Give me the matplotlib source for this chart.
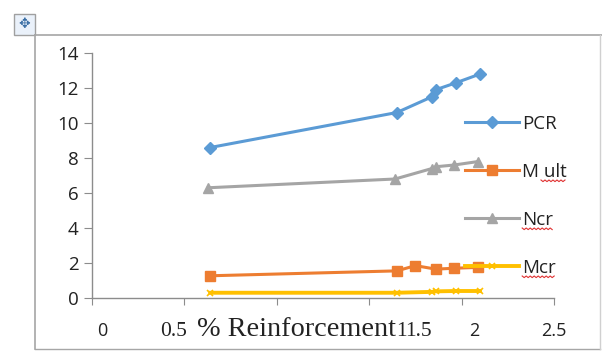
import numpy as np
import matplotlib
matplotlib.use("Agg")
import matplotlib.pyplot as plt
from matplotlib.patches import Rectangle
from matplotlib.lines import Line2D
import matplotlib.transforms as mtransforms

# data
pcr_x = [0.64, 1.65, 1.84, 1.86, 1.97, 2.10]
pcr_y = [8.6, 10.6, 11.5, 11.9, 12.3, 12.8]
mult_x = [0.64, 1.65, 1.75, 1.86, 1.96, 2.09]
mult_y = [1.27, 1.55, 1.85, 1.65, 1.70, 1.75]
ncr_x = [0.63, 1.64, 1.84, 1.86, 1.96, 2.09]
ncr_y = [6.3, 6.8, 7.4, 7.5, 7.6, 7.8]
mcr_x = [0.64, 1.65, 1.84, 1.86, 1.97, 2.10]
mcr_y = [0.30, 0.30, 0.35, 0.38, 0.40, 0.40]

series_names = ["PCR", "M ult", "Ncr", "Mcr"]
xtick_vals = [0, 0.5, 1, 1.5, 2, 2.5]
ytick_vals = [0, 2, 4, 6, 8, 10, 12, 14]
# where the x tick labels actually sit in the picture (data units) -- they are shifted
xtick_label_pos = [0.055, 0.44, 1.672, 1.768, 2.07, 2.50]
xtick_label_txt = ["0", "0.5", "1", "1.5", "2", "2.5"]
xtick_serif = [False, True, True, True, False, False]

W, H = 602, 351
fig = plt.figure(figsize=(W / 100, H / 100), dpi=100)
fig.patch.set_facecolor("white")

sans = ["Open Sans", "DejaVu Sans"]
serif = ["Liberation Serif", "DejaVu Serif"]

ax = fig.add_axes([92 / W, 1 - 298 / H, (554 - 92) / W, (298 - 53) / H])
ax.set_xlim(0, 2.5)
ax.set_ylim(0, 14)

cols = ["#5B9BD5", "#ED7D31", "#A5A5A5", "#FFC000"]
ax.plot(pcr_x, pcr_y, color=cols[0], lw=2.2, marker="D", ms=6, label=series_names[0])
ax.plot(mult_x, mult_y, color=cols[1], lw=2.2, marker="s", ms=7, label=series_names[1])
ax.plot(ncr_x, ncr_y, color=cols[2], lw=2.2, marker="^", ms=7, label=series_names[2])
ax.plot(mcr_x, mcr_y, color=cols[3], lw=2.8, marker="x", ms=4, mew=1.2, label=series_names[3])

for s in ["top", "right"]:
    ax.spines[s].set_visible(False)
for s in ["left", "bottom"]:
    ax.spines[s].set_color("#8C8C8C")
    ax.spines[s].set_linewidth(1.0)

ax.set_yticks(ytick_vals)
ax.set_yticklabels([str(v) for v in ytick_vals], fontsize=13.5, family=sans, color="#222222")
ax.tick_params(axis="y", length=6, color="#8C8C8C", pad=3.5)
ax.set_xticks(xtick_vals)
ax.set_xticklabels([])
ax.tick_params(axis="x", length=5, color="#8C8C8C")

# x tick labels (placed where they appear in the reference)
trans = mtransforms.blended_transform_factory(ax.transData, ax.transAxes)
for xp, t, sf in zip(xtick_label_pos, xtick_label_txt, xtick_serif):
    ax.text(xp, -0.135, t, transform=trans, ha="center", va="center",
            fontsize=15.5 if sf else 13, family=serif if sf else sans, color="#222222")
ax.text(0.568, -0.13, "% Reinforcement", transform=trans, ha="left", va="center",
        fontsize=20.3, family=serif, color="#222222")

leg = ax.legend(loc="upper left", bbox_to_anchor=(465 / W, 1 - 115 / H),
                bbox_transform=fig.transFigure, frameon=False,
                handlelength=2.9, handletextpad=0.15, labelspacing=1.6,
                borderpad=0, borderaxespad=0, prop={"family": sans, "size": 13.5})
for t in leg.get_texts():
    t.set_color("#222222")

# chart frame and the little move icon
frame_col = "#A6A6A6"
fig.add_artist(Line2D([35 / W, 1.0], [1 - 35 / H, 1 - 35 / H], color=frame_col, lw=1.2))
fig.add_artist(Line2D([35 / W, 35 / W], [1 - 35 / H, 1 - 349 / H], color=frame_col, lw=1.2))
fig.add_artist(Line2D([35 / W, 600 / W], [1 - 349 / H, 1 - 349 / H], color=frame_col, lw=1.0))
fig.add_artist(Line2D([600 / W, 600 / W], [1 - 35 / H, 1 - 349 / H], color="#D0D0D0", lw=1.0))
fig.add_artist(Rectangle((14 / W, 1 - 35 / H), 21 / W, 21 / H, transform=fig.transFigure,
                         facecolor="#EAF1FA", edgecolor="#A0A0A0", lw=1))
fig.text(24.5 / W, 1 - 24.5 / H, "\u2725", ha="center", va="center", fontsize=10,
         color="#3A6EA5", family="DejaVu Sans")

# red wavy spell-check underlines under legend labels
fig.canvas.draw()
rend = fig.canvas.get_renderer()
for t in leg.get_texts():
    txt = t.get_text()
    if txt == "PCR":
        continue
    bb = t.get_window_extent(rend)
    x0 = bb.x0
    if txt == "M ult":
        x0 = bb.x0 + bb.width * 0.42
    xs = np.arange(x0, bb.x1, 2.0)
    ys = bb.y0 + 1.0 + np.where(np.arange(len(xs)) % 2 == 0, 0, -1.6)
    fig.add_artist(Line2D(xs / W, ys / H, color="#E03030", lw=0.8))

fig.savefig("out.png", dpi=100)
